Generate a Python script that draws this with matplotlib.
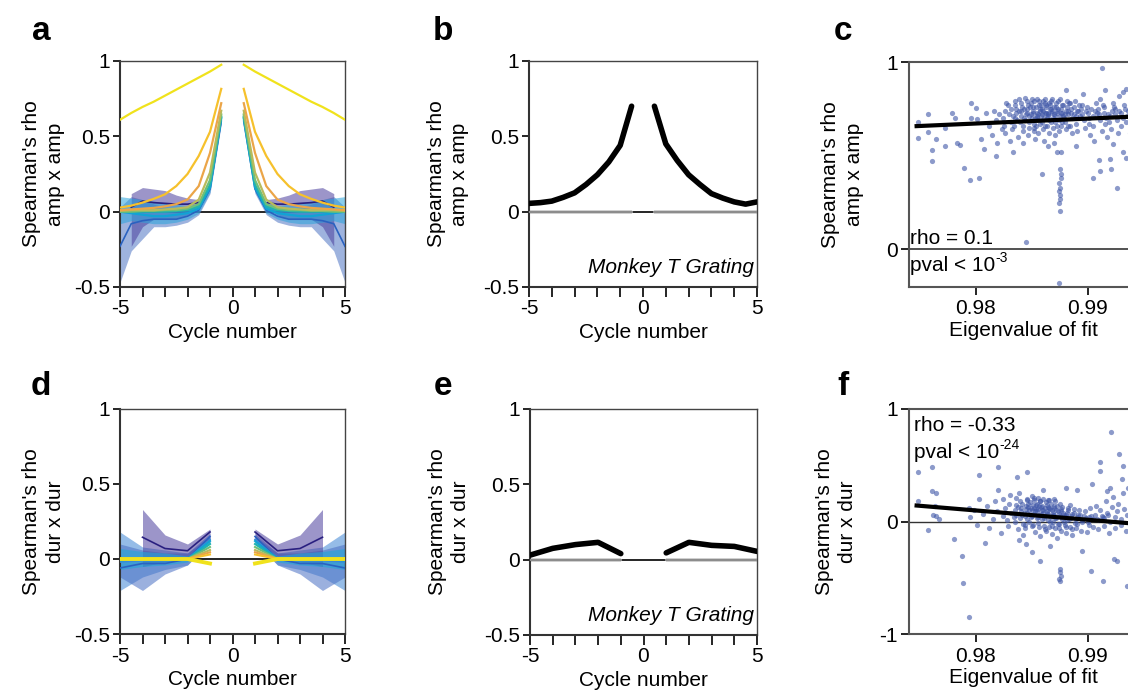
import numpy as np
import matplotlib
matplotlib.use("Agg")
import matplotlib.pyplot as plt

plt.rcParams['font.family'] = ['Liberation Sans', 'DejaVu Sans']
plt.rcParams['font.size'] = 15

# ---------------- data ----------------
# panel a: one side of the symmetric curves (cycle number > 0)
a_x = [0.5, 1.0, 1.5, 2.0, 2.5, 3.0, 3.5, 4.0, 4.5, 5.0]
a_yellow = [0.975, 0.93, 0.89, 0.85, 0.81, 0.77, 0.73, 0.695, 0.655, 0.61]
a_gold = [0.815, 0.53, 0.37, 0.25, 0.17, 0.115, 0.085, 0.06, 0.04, 0.027]
a_orange = [0.72, 0.39, 0.17, 0.08, 0.05, 0.035, 0.025, 0.02, 0.015, 0.01]
a_olive = [0.67, 0.26, 0.08, 0.03, 0.02, 0.015, 0.01, 0.01, 0.01, 0.005]
a_green = [0.645, 0.21, 0.05, 0.02, 0.01, 0.01, 0.005, 0.005, 0.0, 0.0]
a_teal = [0.63, 0.18, 0.035, 0.01, 0.005, 0.0, 0.0, 0.0, 0.0, 0.0]
a_cyan = [0.62, 0.16, 0.02, -0.01, -0.02, -0.03, -0.03, -0.02, -0.01, 0.0]
a_cyan_lo = [0.60, 0.13, -0.01, -0.05, -0.07, -0.08, -0.08, -0.07, -0.06, -0.08]
a_cyan_hi = [0.64, 0.19, 0.05, 0.04, 0.05, 0.06, 0.07, 0.08, 0.09, 0.10]
a_blue = [0.60, 0.15, 0.01, -0.03, -0.05, -0.05, -0.05, -0.06, -0.08, -0.23]
a_blue_lo = [0.58, 0.12, -0.02, -0.07, -0.09, -0.10, -0.10, -0.18, -0.26, -0.47]
a_blue_hi = [0.62, 0.18, 0.04, 0.03, 0.02, 0.03, 0.05, 0.08, 0.10, 0.03]
a_purple_x = [1.5, 2.0, 2.5, 3.0, 3.5, 4.0, 4.5]
a_purple = [0.06, 0.05, 0.05, 0.055, 0.06, 0.07, 0.03]
a_purple_lo = [0.03, -0.02, -0.05, -0.05, -0.05, -0.10, -0.23]
a_purple_hi = [0.08, 0.09, 0.11, 0.14, 0.15, 0.16, 0.12]

# panel b: monkey data, amplitude
b_x = [0.5, 1.0, 1.5, 2.0, 2.5, 3.0, 3.5, 4.0, 4.5, 5.0]
b_left = [0.70, 0.44, 0.33, 0.245, 0.18, 0.125, 0.095, 0.07, 0.06, 0.055]
b_right = [0.70, 0.45, 0.34, 0.245, 0.18, 0.12, 0.09, 0.065, 0.05, 0.065]
b_ctrl = [-0.004, -0.004, -0.004, -0.004, -0.004, -0.004, -0.004, -0.004, -0.004, -0.004]

# panel d: one side, integer cycles
d_x = [1, 2, 3, 4, 5]
d_purple_x = [1, 2, 3, 4]
d_purple = [0.18, 0.055, 0.07, 0.145]
d_purple_lo = [0.14, 0.0, -0.02, -0.05]
d_purple_hi = [0.20, 0.10, 0.16, 0.33]
d_blue = [0.15, 0.0, -0.03, -0.03, -0.06]
d_blue_lo = [0.12, -0.04, -0.10, -0.21, -0.12]
d_blue_hi = [0.17, 0.04, 0.04, 0.06, 0.10]
d_lblue = [0.13, 0.0, -0.01, -0.01, -0.02]
d_lblue_lo = [0.11, -0.04, -0.07, -0.12, -0.21]
d_lblue_hi = [0.15, 0.04, 0.06, 0.08, 0.18]
d_cyan = [0.12, 0.0, 0.0, 0.0, -0.01]
d_cyan_lo = [0.10, -0.02, -0.04, -0.05, -0.07]
d_cyan_hi = [0.13, 0.02, 0.04, 0.05, 0.07]
d_teal = [0.10, 0.0, 0.0, 0.0, 0.0]
d_green = [0.08, 0.0, 0.0, 0.0, 0.0]
d_olive = [0.06, 0.0, 0.0, 0.0, 0.0]
d_orange = [0.045, 0.0, 0.0, 0.0, 0.0]
d_gold = [0.03, 0.0, 0.0, 0.0, 0.0]
d_yellow = [-0.03, 0.0, 0.0, 0.0, 0.0]

# panel e: monkey data, duration
e_x = [1, 2, 3, 4, 5]
e_left = [0.04, 0.115, 0.10, 0.075, 0.03]
e_right = [0.045, 0.115, 0.095, 0.088, 0.055]
e_ctrl = [-0.004, -0.004, -0.004, -0.004, -0.004]

# panel c: eigenvalue of fit vs amp x amp
c_pts = [
    (0.97485, 0.68), (0.97485, 0.595), (0.9757, 0.722), (0.9757, 0.627), (0.9761, 0.533),
    (0.9761, 0.47), (0.9764, 0.587), (0.9772, 0.65), (0.9772, 0.55), (0.97783, 0.726),
    (0.9781, 0.70), (0.9783, 0.57), (0.9786, 0.555), (0.97896, 0.435), (0.97946, 0.373),
    (0.97955, 0.78), (0.9796, 0.70), (0.98027, 0.383), (0.9800, 0.755), (0.9801, 0.695),
    (0.98045, 0.587), (0.9807, 0.535), (0.9809, 0.727), (0.9812, 0.66), (0.9814, 0.61),
    (0.9816, 0.74), (0.9818, 0.69), (0.9819, 0.57), (0.9821, 0.72), (0.9823, 0.64),
    (0.9825, 0.66), (0.98262, 0.74), (0.98241, 0.70), (0.98258, 0.62), (0.9827, 0.78),
    (0.98297, 0.72), (0.98312, 0.68), (0.98288, 0.77), (0.98305, 0.58), (0.98322, 0.64),
    (0.98345, 0.70), (0.98361, 0.75), (0.98338, 0.66), (0.98372, 0.60), (0.98355, 0.73),
    (0.98348, 0.79), (0.98398, 0.71), (0.98412, 0.76), (0.98391, 0.68), (0.98421, 0.63),
    (0.98405, 0.74), (0.98386, 0.80), (0.98417, 0.57), (0.98446, 0.72), (0.98462, 0.77),
    (0.98441, 0.69), (0.98471, 0.65), (0.98455, 0.75), (0.98438, 0.81), (0.98466, 0.61),
    (0.98452, 0.73), (0.98496, 0.70), (0.98512, 0.76), (0.98491, 0.78), (0.98521, 0.67),
    (0.98505, 0.74), (0.98488, 0.72), (0.98517, 0.63), (0.98502, 0.80), (0.98525, 0.59),
    (0.98546, 0.73), (0.98562, 0.77), (0.98541, 0.71), (0.98571, 0.75), (0.98555, 0.69),
    (0.98538, 0.66), (0.98566, 0.79), (0.98552, 0.62), (0.98575, 0.74), (0.98544, 0.70),
    (0.98596, 0.74), (0.98612, 0.78), (0.98591, 0.72), (0.98621, 0.76), (0.98605, 0.70),
    (0.98588, 0.68), (0.98617, 0.80), (0.98602, 0.64), (0.98625, 0.73), (0.98594, 0.75),
    (0.98608, 0.58), (0.98646, 0.73), (0.98662, 0.77), (0.98641, 0.71), (0.98671, 0.75),
    (0.98655, 0.69), (0.98638, 0.66), (0.98666, 0.79), (0.98652, 0.62), (0.98675, 0.74),
    (0.98644, 0.72), (0.98696, 0.72), (0.98712, 0.76), (0.98691, 0.70), (0.98721, 0.74),
    (0.98705, 0.68), (0.98688, 0.65), (0.98717, 0.78), (0.98702, 0.61), (0.98725, 0.73),
    (0.98694, 0.57), (0.98746, 0.71), (0.98762, 0.75), (0.98741, 0.69), (0.98771, 0.77),
    (0.98755, 0.66), (0.98738, 0.63), (0.98766, 0.73), (0.98752, 0.80), (0.98796, 0.72),
    (0.98812, 0.76), (0.98791, 0.68), (0.98821, 0.74), (0.98805, 0.64), (0.98788, 0.70),
    (0.98817, 0.79), (0.98846, 0.73), (0.98862, 0.70), (0.98841, 0.66), (0.98871, 0.76),
    (0.98855, 0.62), (0.98838, 0.78), (0.98896, 0.71), (0.98912, 0.74), (0.98891, 0.67),
    (0.98921, 0.77), (0.98905, 0.63), (0.98946, 0.72), (0.98962, 0.69), (0.98941, 0.75),
    (0.98971, 0.65), (0.98996, 0.73), (0.99012, 0.70), (0.98991, 0.76), (0.99021, 0.61),
    (0.99005, 0.67), (0.99046, 0.71), (0.99062, 0.74), (0.99041, 0.66), (0.99071, 0.78),
    (0.99055, 0.58), (0.99096, 0.72), (0.99112, 0.69), (0.99091, 0.75), (0.99121, 0.63),
    (0.99105, 0.80), (0.99146, 0.73), (0.99162, 0.70), (0.99141, 0.76), (0.99171, 0.60),
    (0.99155, 0.67), (0.99196, 0.71), (0.99212, 0.74), (0.99191, 0.68), (0.99221, 0.78),
    (0.99205, 0.64), (0.99246, 0.72), (0.99262, 0.69), (0.99241, 0.75), (0.99271, 0.62),
    (0.99296, 0.73), (0.99312, 0.70), (0.99291, 0.66), (0.99321, 0.77), (0.99346, 0.71),
    (0.99362, 0.74), (0.99341, 0.68), (0.99372, 0.62),
    # denser core
    (0.98315, 0.75), (0.98330, 0.71), (0.98352, 0.77), (0.98368, 0.69), (0.98380, 0.74),
    (0.98402, 0.78), (0.98425, 0.70), (0.98432, 0.75), (0.98458, 0.79), (0.98478, 0.71),
    (0.98483, 0.76), (0.98508, 0.73), (0.98515, 0.79), (0.98530, 0.70), (0.98535, 0.76),
    (0.98548, 0.80), (0.98558, 0.72), (0.98580, 0.77), (0.98585, 0.71), (0.98598, 0.79),
    (0.98615, 0.73), (0.98628, 0.77), (0.98632, 0.70), (0.98648, 0.78), (0.98658, 0.75),
    (0.98680, 0.73), (0.98683, 0.80), (0.98700, 0.76), (0.98708, 0.71), (0.98730, 0.75),
    (0.98733, 0.79), (0.98758, 0.73), (0.98775, 0.71), (0.98780, 0.77), (0.98800, 0.74),
    (0.98825, 0.72), (0.98830, 0.78), (0.98850, 0.75), (0.98878, 0.72), (0.98885, 0.79),
    (0.98900, 0.74), (0.98930, 0.71), (0.98950, 0.77), (0.98980, 0.74), (0.99030, 0.75),
    (0.99080, 0.73), (0.99130, 0.77), (0.99180, 0.72), (0.99230, 0.76), (0.99280, 0.74),
    (0.99330, 0.75), (0.98570, 0.67), (0.98620, 0.66), (0.98670, 0.68), (0.98720, 0.66),
    (0.98470, 0.68), (0.98420, 0.66), (0.98770, 0.68), (0.98820, 0.66), (0.98520, 0.65),
    # streak and outliers
    (0.98752, 0.43), (0.98756, 0.40), (0.98744, 0.354), (0.98748, 0.33), (0.98741, 0.31),
    (0.98752, 0.29), (0.98738, 0.25), (0.98749, 0.205), (0.98758, 0.38), (0.98746, 0.27),
    (0.98586, 0.405), (0.98722, 0.52), (0.98755, 0.52), (0.99045, 0.38), (0.99197, 0.48),
    (0.99206, 0.43), (0.99256, 0.33), (0.99310, 0.52), (0.99122, 0.97), (0.99339, 0.854),
    (0.99311, 0.84), (0.99104, 0.42), (0.99101, 0.475), (0.99339, 0.49), (0.98446, 0.04),
    (0.98740, -0.18), (0.98890, 0.55), (0.98640, 0.55), (0.98330, 0.52), (0.98180, 0.50),
    (0.99220, 0.56), (0.99280, 0.82), (0.99150, 0.85), (0.98960, 0.83), (0.98800, 0.85),
]
c_fit_x = [0.9747, 0.9945]
c_fit_y = [0.658, 0.710]

# panel f: eigenvalue of fit vs dur x dur
f_pts = [
    (0.97485, 0.444), (0.97604, 0.483), (0.97485, 0.178), (0.9761, 0.27), (0.9764, 0.255),
    (0.9757, -0.074), (0.9762, 0.06), (0.9764, 0.05), (0.9763, 0.14), (0.9767, 0.02),
    (0.97806, -0.154), (0.97872, -0.308), (0.9788, -0.545), (0.97938, -0.85), (0.9794, 0.12),
    (0.9795, 0.04), (0.98027, 0.41), (0.9803, 0.20), (0.9808, -0.19), (0.98194, 0.483),
    (0.9820, 0.28), (0.98369, 0.40), (0.98458, 0.444), (0.98497, -0.267), (0.98571, -0.355),
    (0.9860, 0.28), (0.9798, 0.10), (0.9801, -0.03), (0.9806, 0.07), (0.9810, 0.14),
    (0.9812, -0.06), (0.9815, 0.02), (0.9817, 0.18), (0.9819, 0.09), (0.9822, -0.10),
    (0.9824, 0.05), (0.98262, 0.12), (0.98245, 0.20), (0.98281, 0.01), (0.98297, 0.16),
    (0.98312, 0.08), (0.98288, -0.04), (0.98305, 0.24), (0.98345, 0.10), (0.98361, 0.15),
    (0.98338, 0.04), (0.98372, -0.07), (0.98355, 0.21), (0.98348, 0.00), (0.98398, 0.12),
    (0.98412, 0.06), (0.98391, 0.18), (0.98421, -0.02), (0.98405, 0.09), (0.98386, 0.25),
    (0.98417, -0.12), (0.98446, 0.11), (0.98462, 0.16), (0.98441, 0.05), (0.98471, 0.00),
    (0.98455, 0.20), (0.98438, -0.06), (0.98466, 0.13), (0.98452, 0.08), (0.98496, 0.10),
    (0.98512, 0.15), (0.98491, 0.04), (0.98521, 0.19), (0.98505, -0.03), (0.98488, 0.12),
    (0.98517, 0.07), (0.98502, 0.23), (0.98525, -0.09), (0.98546, 0.09), (0.98562, 0.14),
    (0.98541, 0.03), (0.98571, 0.18), (0.98555, -0.01), (0.98538, 0.11), (0.98566, 0.06),
    (0.98552, 0.21), (0.98575, -0.13), (0.98544, 0.16), (0.98596, 0.08), (0.98612, 0.12),
    (0.98591, 0.02), (0.98621, 0.17), (0.98605, -0.04), (0.98588, 0.10), (0.98617, 0.05),
    (0.98602, 0.20), (0.98625, -0.08), (0.98594, 0.14), (0.98646, 0.07), (0.98662, 0.11),
    (0.98641, 0.01), (0.98671, 0.16), (0.98655, -0.05), (0.98638, 0.09), (0.98666, 0.04),
    (0.98652, 0.19), (0.98675, -0.11), (0.98644, 0.13), (0.98696, 0.06), (0.98712, 0.10),
    (0.98691, 0.00), (0.98721, 0.14), (0.98705, -0.06), (0.98688, 0.08), (0.98717, 0.03),
    (0.98702, 0.18), (0.98725, -0.15), (0.98694, 0.12), (0.98746, 0.05), (0.98762, 0.09),
    (0.98741, -0.02), (0.98771, 0.13), (0.98755, -0.08), (0.98738, 0.07), (0.98766, 0.02),
    (0.98752, 0.16), (0.98796, 0.04), (0.98812, 0.08), (0.98791, -0.03), (0.98821, 0.12),
    (0.98805, -0.10), (0.98788, 0.06), (0.98817, 0.01), (0.98846, 0.03), (0.98862, 0.07),
    (0.98841, -0.05), (0.98871, 0.11), (0.98855, -0.12), (0.98838, 0.15), (0.98896, 0.02),
    (0.98912, 0.06), (0.98891, -0.06), (0.98921, 0.10), (0.98905, -0.02), (0.98946, 0.01),
    (0.98962, 0.05), (0.98941, -0.08), (0.98971, 0.09), (0.98996, 0.00), (0.99012, 0.04),
    (0.98991, -0.09), (0.99021, 0.12), (0.99005, -0.03), (0.99046, 0.02), (0.99062, 0.06),
    (0.99041, -0.05), (0.99071, 0.14), (0.99096, 0.01), (0.99112, 0.10), (0.99091, -0.07),
    (0.99121, 0.05), (0.99146, 0.03), (0.99162, 0.18), (0.99141, -0.04), (0.99171, 0.08),
    (0.99196, 0.00), (0.99212, 0.13), (0.99191, -0.10), (0.99221, 0.22), (0.99246, 0.04),
    (0.99262, 0.09), (0.99241, -0.06), (0.99271, 0.16), (0.99296, 0.02), (0.99312, 0.25),
    (0.99291, -0.03), (0.99321, 0.11), (0.99346, 0.06), (0.99362, 0.30), (0.99341, -0.08),
    # denser core
    (0.98360, 0.06), (0.98378, 0.13), (0.98395, 0.03), (0.98408, 0.16), (0.98430, 0.08),
    (0.98448, 0.14), (0.98460, 0.02), (0.98478, 0.10), (0.98485, 0.17), (0.98500, 0.05),
    (0.98515, 0.12), (0.98530, 0.09), (0.98535, 0.15), (0.98550, 0.04), (0.98558, 0.11),
    (0.98580, 0.07), (0.98585, 0.13), (0.98600, 0.10), (0.98610, 0.03), (0.98630, 0.15),
    (0.98635, 0.08), (0.98650, 0.12), (0.98660, 0.00), (0.98680, 0.10), (0.98685, 0.06),
    (0.98700, 0.14), (0.98710, 0.03), (0.98730, 0.09), (0.98735, -0.02), (0.98758, 0.11),
    (0.98760, 0.04), (0.98780, 0.08), (0.98785, 0.00), (0.98800, 0.06), (0.98825, 0.10),
    (0.98830, 0.02), (0.98850, 0.05), (0.98878, 0.08), (0.98880, -0.01), (0.98900, 0.04),
    (0.98930, 0.06), (0.98950, 0.00), (0.98980, 0.03), (0.99030, 0.05), (0.99080, 0.02),
    (0.99130, 0.04), (0.99180, 0.06), (0.98560, -0.05), (0.98620, -0.07), (0.98680, -0.04),
    (0.98740, -0.06), (0.98800, -0.05), (0.98500, -0.04), (0.98440, -0.03), (0.98860, -0.07),
    (0.98570, 0.18), (0.98640, 0.19), (0.98700, 0.20), (0.98520, 0.21), (0.98460, 0.19),
    # streak and outliers
    (0.98750, -0.42), (0.98748, -0.45), (0.98755, -0.48), (0.98745, -0.51), (0.98752, -0.53),
    (0.99202, 0.80), (0.9928, 0.60), (0.99107, 0.53), (0.99033, 0.33), (0.9911, 0.45),
    (0.99167, 0.275), (0.99315, 0.49), (0.99256, -0.347), (0.99137, -0.53), (0.99024, -0.44),
    (0.98944, -0.258), (0.99345, -0.57), (0.99230, -0.33), (0.9930, 0.38), (0.9920, 0.30),
    (0.9890, 0.28), (0.9845, -0.20), (0.9838, -0.16), (0.9866, -0.22), (0.9880, 0.30),
]
f_fit_x = [0.9747, 0.9945]
f_fit_y = [0.142, -0.022]

# parula-like colours
col = {
    'purple': '#3b2d9a', 'blue': '#2f6fcf', 'lblue': '#4a9ee0', 'cyan': '#11a3d4',
    'teal': '#1fb3b0', 'green': '#6cbf7a', 'olive': '#b8bb5c', 'orange': '#eba548',
    'gold': '#f6c12c', 'yellow': '#f0e21c',
}


def mirror(ax, x, y, **kw):
    x = np.asarray(x, float)
    ax.plot(-x, y, **kw)
    ax.plot(x, y, **kw)


def mirror_band(ax, x, lo, hi, **kw):
    x = np.asarray(x, float)
    ax.fill_between(-x, lo, hi, linewidth=0, **kw)
    ax.fill_between(x, lo, hi, linewidth=0, **kw)


def style_cycle_axes(ax, ylabel, pad=6):
    ax.set_xlim(-5, 5)
    ax.set_ylim(-0.5, 1)
    ax.set_xticks(range(-5, 6))
    ax.set_xticklabels(['-5', '', '', '', '', '0', '', '', '', '', '5'])
    ax.set_yticks([-0.5, 0, 0.5, 1])
    ax.set_yticklabels(['-0.5', '0', '0.5', '1'])
    ax.tick_params(axis='x', length=7, width=1.2, pad=2)
    ax.tick_params(axis='y', length=5, width=1.2, pad=2)
    ax.set_xlabel('Cycle number', labelpad=3)
    ax.set_ylabel(ylabel, linespacing=1.3, labelpad=pad)
    for s in ['left', 'bottom']:
        ax.spines[s].set_linewidth(1.5)
        ax.spines[s].set_color('#333333')
    for s in ['top', 'right']:
        ax.spines[s].set_linewidth(1.0)
        ax.spines[s].set_color('#444444')


def style_eig_axes(ax, ylabel, ylim, yticks, ylabels):
    ax.set_xlim(0.97402, 0.99438)
    ax.set_ylim(*ylim)
    ax.set_xticks([0.98, 0.99])
    ax.set_xticklabels(['0.98', '0.99'])
    ax.set_yticks(yticks)
    ax.set_yticklabels(ylabels)
    ax.tick_params(axis='x', length=6, width=1.2, pad=3)
    ax.tick_params(axis='y', length=6, width=1.2, pad=2)
    ax.set_xlabel('Eigenvalue of fit', labelpad=2)
    ax.set_ylabel(ylabel, linespacing=1.3, labelpad=16)
    for s in ['left', 'bottom', 'top', 'right']:
        ax.spines[s].set_linewidth(1.5)
        ax.spines[s].set_color('#555555')


def pval_text(ax, x, y, exponent):
    ax.text(x, y, 'pval < 10', ha='left', va='baseline')
    ax.annotate(exponent, xy=(x, y), xycoords='data', xytext=(61.5, 6.5),
                textcoords='offset points', fontsize=10, ha='left', va='baseline')


fig = plt.figure(figsize=(11.28, 7), dpi=100)
W, H = 1128, 700


def add_axes(l, r, t, b):
    return fig.add_axes([l / W, 1 - b / H, (r - l) / W, (b - t) / H])


ax_a = add_axes(120, 345, 61, 287)
ax_b = add_axes(529, 757, 61, 287)
ax_c = add_axes(909, 1137, 62, 287)
ax_d = add_axes(120, 345, 409, 634)
ax_e = add_axes(530, 757, 409, 635)
ax_f = add_axes(909, 1137, 409, 634)

# ---- a ----
ax_a.axhline(0, color='black', lw=1.2, zorder=1)
mirror_band(ax_a, a_x, a_blue_lo, a_blue_hi, color='#4f75c4', alpha=0.55, zorder=2)
mirror_band(ax_a, a_purple_x, a_purple_lo, a_purple_hi, color='#4b3f9e', alpha=0.55, zorder=2)
mirror_band(ax_a, a_x, a_cyan_lo, a_cyan_hi, color='#2aa4dc', alpha=0.55, zorder=2)
mirror(ax_a, a_purple_x, a_purple, color='#2a2080', lw=1.2, zorder=3)
mirror(ax_a, a_x, a_blue, color='#2a62c0', lw=1.2, zorder=3)
for name, ys in [('cyan', a_cyan), ('teal', a_teal), ('green', a_green), ('olive', a_olive),
                 ('orange', a_orange), ('gold', a_gold), ('yellow', a_yellow)]:
    mirror(ax_a, a_x, ys, color=col[name], lw=1.6, zorder=4)
style_cycle_axes(ax_a, "Spearman's rho\namp x amp", pad=7)

# ---- b ----
ax_b.axhline(0, color='black', lw=1.2, zorder=1)
bx = np.asarray(b_x)
for sx in (-1, 1):
    ax_b.fill_between(sx * bx, np.array(b_ctrl) - 0.012, np.array(b_ctrl) + 0.012,
                      color='#d4d4d4', lw=0, zorder=2)
    ax_b.plot(sx * bx, b_ctrl, color='#8c8c8c', lw=1.5, zorder=3)
ax_b.plot(-bx, b_left, color='black', lw=4, solid_capstyle='round', zorder=4)
ax_b.plot(bx, b_right, color='black', lw=4, solid_capstyle='round', zorder=4)
ax_b.text(4.85, -0.41, 'Monkey T Grating', style='italic', ha='right', va='baseline')
style_cycle_axes(ax_b, "Spearman's rho\namp x amp", pad=10)

# ---- d ----
ax_d.axhline(0, color='black', lw=1.2, zorder=1)
mirror_band(ax_d, d_x, d_lblue_lo, d_lblue_hi, color='#4f90d8', alpha=0.6, zorder=2)
mirror_band(ax_d, d_x, d_blue_lo, d_blue_hi, color='#4a6fc4', alpha=0.55, zorder=2)
mirror_band(ax_d, d_purple_x, d_purple_lo, d_purple_hi, color='#4b3f9e', alpha=0.55, zorder=2)
mirror_band(ax_d, d_x, d_cyan_lo, d_cyan_hi, color='#22a6d8', alpha=0.6, zorder=2)
mirror(ax_d, d_purple_x, d_purple, color='#2a2080', lw=1.2, zorder=3)
mirror(ax_d, d_x, d_blue, color='#2a62c0', lw=1.2, zorder=3)
mirror(ax_d, d_x, d_lblue, color='#3a8ad8', lw=1.2, zorder=3)
for name, ys in [('cyan', d_cyan), ('teal', d_teal), ('green', d_green), ('olive', d_olive),
                 ('orange', d_orange), ('gold', d_gold)]:
    mirror(ax_d, d_x, ys, color=col[name], lw=1.5, zorder=4)
mirror(ax_d, d_x, d_yellow, color=col['yellow'], lw=2.8, zorder=5)
style_cycle_axes(ax_d, "Spearman's rho\ndur x dur", pad=7)

# ---- e ----
ax_e.axhline(0, color='black', lw=1.2, zorder=1)
ex = np.asarray(e_x)
for sx in (-1, 1):
    ax_e.fill_between(sx * ex, np.array(e_ctrl) - 0.012, np.array(e_ctrl) + 0.012,
                      color='#d4d4d4', lw=0, zorder=2)
    ax_e.plot(sx * ex, e_ctrl, color='#8c8c8c', lw=1.5, zorder=3)
ax_e.plot(-ex, e_left, color='black', lw=4, solid_capstyle='round', zorder=4)
ax_e.plot(ex, e_right, color='black', lw=4, solid_capstyle='round', zorder=4)
ax_e.text(4.85, -0.41, 'Monkey T Grating', style='italic', ha='right', va='baseline')
style_cycle_axes(ax_e, "Spearman's rho\ndur x dur", pad=10)

# ---- c ----
cp = np.array(c_pts)
ax_c.axhline(0, color='#333333', lw=1.2, zorder=1)
ax_c.scatter(cp[:, 0], cp[:, 1], s=14, color='#3f57a8', alpha=0.6, lw=0, zorder=2)
ax_c.plot(c_fit_x, c_fit_y, color='black', lw=3, zorder=3)
ax_c.text(0.97415, 0.03, 'rho = 0.1', ha='left', va='baseline')
pval_text(ax_c, 0.97415, -0.115, '-3')
style_eig_axes(ax_c, "Spearman's rho\namp x amp", (-0.2, 1), [0, 1], ['0', '1'])

# ---- f ----
fp = np.array(f_pts)
ax_f.axhline(0, color='#333333', lw=1.0, zorder=1)
ax_f.scatter(fp[:, 0], fp[:, 1], s=14, color='#3f57a8', alpha=0.6, lw=0, zorder=2)
ax_f.plot(f_fit_x, f_fit_y, color='black', lw=3, zorder=3)
ax_f.text(0.9745, 0.805, 'rho = -0.33', ha='left', va='baseline')
pval_text(ax_f, 0.9745, 0.56, '-24')
style_eig_axes(ax_f, "Spearman's rho\ndur x dur", (-1, 1), [-1, 0, 1], ['-1', '0', '1'])

# panel letters
for letter, px, py in [('a', 41, 40), ('b', 443, 40), ('c', 843, 40),
                       ('d', 41, 395), ('e', 443, 395), ('f', 843, 395)]:
    fig.text(px / W, 1 - py / H, letter, fontsize=24, fontweight='bold',
             ha='center', va='baseline')

fig.savefig('out.png', dpi=100)
